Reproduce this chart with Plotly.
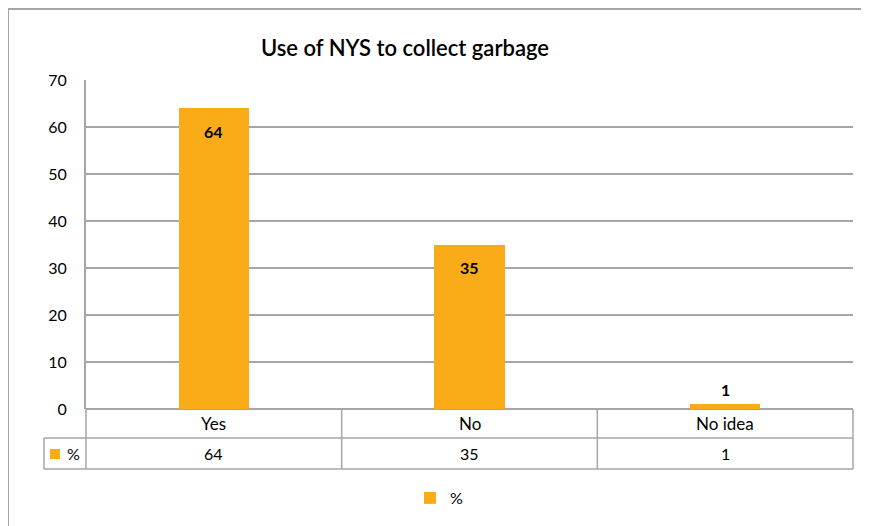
import plotly.graph_objects as go

categories = ["Yes", "No", "No idea"]
values = [64, 35, 1]
series_name = "%"
title_text = "Use of NYS to collect garbage"
y_ticks = [0, 10, 20, 30, 40, 50, 60, 70]

BAR = "#FAAC18"
GRID = "#A6A6A6"
FONT = "Lato"

W, H = 869, 526
OFF = 8  # page body margin offset
L, R, T, B = 86 - OFF, W - (853 - OFF), 80 - OFF, H - (409 - OFF)
pw = W - L - R
ph = H - T - B

def px_x(px):
    return (px - OFF - L) / pw

def px_y(py):
    return (H - B - (py - OFF)) / ph

fig = go.Figure()
fig.add_trace(go.Bar(
    x=categories, y=values, name=series_name,
    marker=dict(color=BAR, line=dict(width=0)),
    width=0.274, showlegend=True,
))

n = len(categories)
shapes = []
ann = []

for c, v in zip(categories, values):
    inside = v > 5
    ann.append(dict(x=c, y=v, xref="x", yref="y", text=f"<b>{v}</b>", showarrow=False,
                    yanchor="middle", yshift=-23 if inside else 15,
                    font=dict(family=FONT, size=16, color="#000000")))

row1_bot = px_y(438)
row2_bot = px_y(469)
left_col = px_x(44)
line = dict(color=GRID, width=1.5)
shapes.append(dict(type="line", xref="paper", yref="paper", x0=left_col, x1=1, y0=row1_bot, y1=row1_bot, line=line))
shapes.append(dict(type="line", xref="paper", yref="paper", x0=left_col, x1=1, y0=row2_bot, y1=row2_bot, line=line))
for i in range(n + 1):
    shapes.append(dict(type="line", xref="paper", yref="paper", x0=i / n, x1=i / n, y0=0, y1=row2_bot, line=line))
shapes.append(dict(type="line", xref="paper", yref="paper", x0=left_col, x1=left_col, y0=row1_bot, y1=row2_bot, line=line))
shapes.append(dict(type="rect", xref="paper", yref="paper", x0=px_x(50), x1=px_x(60),
                   y0=px_y(459), y1=px_y(449), fillcolor=BAR, line=dict(width=0)))
ann.append(dict(x=px_x(65), y=(row1_bot + row2_bot) / 2, xref="paper", yref="paper", text=series_name,
                showarrow=False, xanchor="left", yanchor="middle",
                font=dict(family=FONT, size=16, color="#000000")))
for i, (c, v) in enumerate(zip(categories, values)):
    ann.append(dict(x=c, y=row1_bot / 2, xref="x", yref="paper", text=c, showarrow=False,
                    yanchor="middle", font=dict(family=FONT, size=17, color="#000000")))
    ann.append(dict(x=c, y=(row1_bot + row2_bot) / 2, xref="x", yref="paper", text=str(v), showarrow=False,
                    yanchor="middle", font=dict(family=FONT, size=16, color="#000000")))

shapes.append(dict(type="line", xref="paper", yref="paper", x0=px_x(8), x1=px_x(880), y0=px_y(9), y1=px_y(9),
                   line=dict(color=GRID, width=2)))
shapes.append(dict(type="line", xref="paper", yref="paper", x0=px_x(8), x1=px_x(8), y0=px_y(9), y1=px_y(540),
                   line=dict(color=GRID, width=2)))

fig.update_layout(
    width=W, height=H,
    margin=dict(l=L, r=R, t=T, b=B),
    paper_bgcolor="white", plot_bgcolor="white",
    title=dict(text=title_text, x=px_x(405), xref="paper", xanchor="center", y=1 - (48 - OFF) / H,
               yref="container", yanchor="middle",
               font=dict(family=FONT, size=22, color="#000000", weight=600)),
    bargap=0.0,
    xaxis=dict(range=[-0.5, n - 0.5], showticklabels=False, showgrid=False, zeroline=False,
               showline=False, ticks=""),
    yaxis=dict(range=[0, 70], tickvals=y_ticks, showgrid=True, gridcolor=GRID, gridwidth=1.5,
               zeroline=True, zerolinecolor=GRID, zerolinewidth=2,
               showline=True, linecolor=GRID, linewidth=2, ticks="", ticklabelstandoff=14,
               tickfont=dict(family=FONT, size=16, color="#000000")),
    legend=dict(orientation="h", x=px_x(439), xanchor="center", y=px_y(498), yanchor="middle",
                font=dict(family=FONT, size=16, color="#000000")),
    shapes=shapes, annotations=ann,
    font=dict(family=FONT),
)

fig.write_html("out.html")
